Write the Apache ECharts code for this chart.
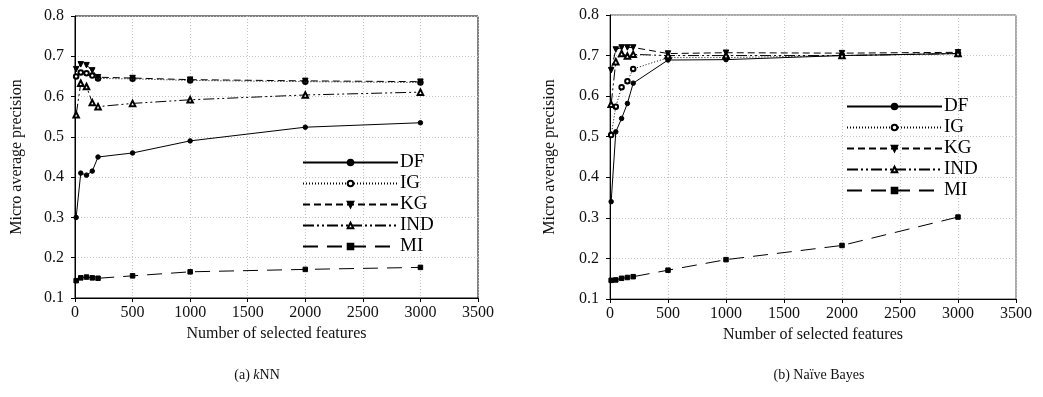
<!DOCTYPE html>
<html>
<head>
<meta charset="utf-8">
<script src="https://cdn.jsdelivr.net/npm/echarts@6/dist/echarts.min.js"></script>
<style>
  html, body {margin: 0; padding: 0; background: #fff;}
  #chart {width: 1043px; height: 397px;}
</style>
</head>
<body>
<div id="chart"></div>
<script>
// number of selected features (x values)
const features = [10, 50, 100, 150, 200, 500, 1000, 2000, 3000];

// (a) kNN
const knnDF  = [0.300, 0.410, 0.405, 0.415, 0.450, 0.460, 0.490, 0.524, 0.535];
const knnIG  = [0.650, 0.660, 0.658, 0.652, 0.645, 0.644, 0.640, 0.637, 0.635];
const knnKG  = [0.668, 0.680, 0.678, 0.665, 0.648, 0.646, 0.642, 0.639, 0.637];
const knnIND = [0.555, 0.633, 0.625, 0.585, 0.575, 0.583, 0.592, 0.604, 0.611];
const knnMI  = [0.143, 0.150, 0.152, 0.150, 0.149, 0.155, 0.165, 0.171, 0.176];

// (b) Naive Bayes
const nbDF  = [0.340, 0.512, 0.545, 0.582, 0.632, 0.689, 0.690, 0.700, 0.705];
const nbIG  = [0.504, 0.574, 0.622, 0.637, 0.667, 0.695, 0.695, 0.700, 0.705];
const nbKG  = [0.664, 0.715, 0.720, 0.720, 0.720, 0.705, 0.707, 0.706, 0.708];
const nbIND = [0.580, 0.685, 0.705, 0.699, 0.703, 0.700, 0.700, 0.700, 0.705];
const nbMI  = [0.146, 0.147, 0.151, 0.153, 0.155, 0.171, 0.197, 0.232, 0.302];

const names = ['DF', 'IG', 'KG', 'IND', 'MI'];
const xTicks = [0, 500, 1000, 1500, 2000, 2500, 3000, 3500];
const yTicks = [0.1, 0.2, 0.3, 0.4, 0.5, 0.6, 0.7, 0.8];

const font = '"Liberation Serif", "DejaVu Serif", serif';

const styles = {
  DF:  {symbol: 'circle', size: 4.5, type: 'solid'},
  IG:  {symbol: 'emptyCircle', size: 4.5, type: [1, 2]},
  KG:  {symbol: 'path://M0,0 L10,0 L5,9 Z', size: 5.5, type: [7, 4]},
  IND: {symbol: 'emptyTriangle', size: 5.5, type: [11, 3, 2, 3, 2, 3]},
  MI:  {symbol: 'rect', size: 4.5, type: [15, 9]}
};

function makeSeries(name, values, idx) {
  const s = styles[name];
  return {
    name: name,
    type: 'line',
    xAxisIndex: idx,
    yAxisIndex: idx,
    data: features.map((f, i) => [f, values[i]]),
    symbol: s.symbol,
    symbolSize: s.size,
    showAllSymbol: true,
    itemStyle: {color: '#000', borderColor: '#000', borderWidth: 1},
    lineStyle: {color: '#000', width: 1, type: s.type},
    animation: false
  };
}

function xAxis(idx) {
  return {
    type: 'value', gridIndex: idx,
    min: xTicks[0], max: xTicks[xTicks.length - 1], interval: 500,
    name: 'Number of selected features', nameLocation: 'middle', nameGap: 28,
    nameTextStyle: {fontFamily: font, fontSize: 16, color: '#111'},
    axisLine: {lineStyle: {color: '#000'}},
    axisTick: {length: 4, lineStyle: {color: '#000'}},
    axisLabel: {fontFamily: font, fontSize: 16, color: '#111', margin: 7,
      formatter: v => String(v)},
    splitLine: {show: true, lineStyle: {color: '#c4c4c4', type: [1, 2]}}
  };
}

function yAxis(idx, gap) {
  return {
    type: 'value', gridIndex: idx,
    min: yTicks[0], max: yTicks[yTicks.length - 1], interval: 0.1,
    name: 'Micro average precision', nameLocation: 'middle', nameGap: gap,
    nameTextStyle: {fontFamily: font, fontSize: 16, color: '#111'},
    axisLine: {show: true, lineStyle: {color: '#000'}},
    axisTick: {show: true, length: 4, lineStyle: {color: '#000'}},
    axisLabel: {fontFamily: font, fontSize: 16, color: '#111', margin: 11,
      formatter: v => v.toFixed(1)},
    splitLine: {show: true, lineStyle: {color: '#c4c4c4', type: [1, 2]}}
  };
}

function legend(left, top) {
  return {
    orient: 'vertical', left: left, top: top,
    data: names, padding: 0,
    itemWidth: 95, itemHeight: 7, itemGap: 2,
    selectedMode: false,
    textStyle: {fontFamily: font, fontSize: 19, color: '#000', padding: [0, 0, 0, -3]}
  };
}

const chart = echarts.init(document.getElementById('chart'));
chart.setOption({
  backgroundColor: '#fff',
  animation: false,
  grid: [
    {left: 75, right: 565, top: 16, bottom: 99, show: true, borderColor: '#000', borderWidth: 1, backgroundColor: 'transparent'},
    {left: 610, right: 27, top: 15, bottom: 98, show: true, borderColor: '#555', borderWidth: 1, backgroundColor: 'transparent'}
  ],
  xAxis: [xAxis(0), xAxis(1)],
  yAxis: [yAxis(0, 50), yAxis(1, 52)],
  legend: [legend(302, 153), legend(846, 97)],
  title: [
    {text: '(a) {i|k}NN', left: 252, top: 363, textAlign: 'center',
      textStyle: {fontFamily: font, fontSize: 14, fontWeight: 'normal', color: '#111',
        rich: {i: {fontFamily: font, fontSize: 14, fontStyle: 'italic', color: '#111'}}}},
    {text: '(b) Naïve Bayes', left: 814, top: 363, textAlign: 'center',
      textStyle: {fontFamily: font, fontSize: 14, fontWeight: 'normal', color: '#111'}}
  ],
  series: [
    makeSeries('DF', knnDF, 0),
    makeSeries('IG', knnIG, 0),
    makeSeries('KG', knnKG, 0),
    makeSeries('IND', knnIND, 0),
    makeSeries('MI', knnMI, 0),
    makeSeries('DF', nbDF, 1),
    makeSeries('IG', nbIG, 1),
    makeSeries('KG', nbKG, 1),
    makeSeries('IND', nbIND, 1),
    makeSeries('MI', nbMI, 1)
  ]
});
</script>
</body>
</html>
